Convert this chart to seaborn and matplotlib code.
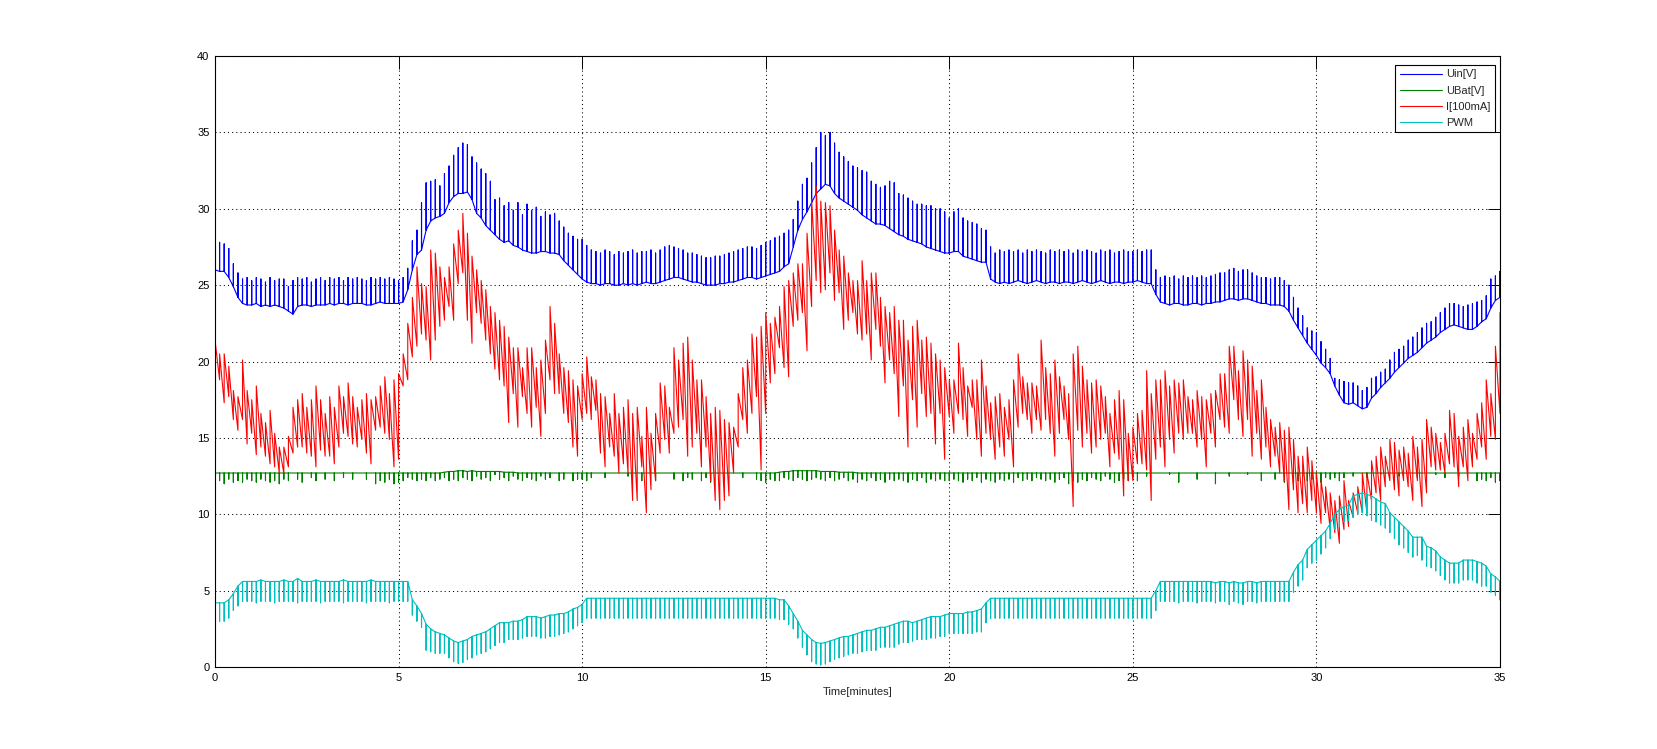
import numpy as np
import pandas as pd
import matplotlib
matplotlib.use("Agg")
import matplotlib.pyplot as plt
import seaborn as sns

# ---- data: values read every 0.125 min (t = 0 ... 35), 40 per 5-minute block ----
time_min = [i * 0.125 for i in range(281)]

uin_base = [
    26.0, 25.9, 25.9, 25.5, 24.9, 24.2, 23.8, 23.7, 23.7, 23.8, 23.6, 23.7, 23.6, 23.7, 23.6, 23.5,
    23.3, 23.1, 23.6, 23.7, 23.7, 23.6, 23.7, 23.7, 23.7, 23.8, 23.7, 23.8, 23.8, 23.7, 23.8, 23.8,
    23.8, 23.7, 23.7, 23.8, 23.9, 23.8, 23.8, 23.8,
    23.8, 23.9, 24.7, 26.0, 27.0, 27.3, 28.6, 29.2, 29.4, 29.5, 29.7, 30.4, 30.8, 31.0, 31.0, 31.1,
    30.6, 29.7, 29.4, 28.9, 28.6, 28.3, 28.0, 27.8, 27.9, 27.6, 27.5, 27.3, 27.2, 27.1, 27.1, 27.2,
    27.2, 27.1, 27.1, 27.0, 26.6, 26.3, 26.0, 25.7,
    25.4, 25.2, 25.1, 25.1, 25.0, 25.1, 25.1, 25.0, 25.0, 25.1, 25.0, 25.1, 25.0, 25.1, 25.2, 25.1,
    25.1, 25.2, 25.3, 25.4, 25.5, 25.5, 25.4, 25.3, 25.2, 25.2, 25.1, 25.0, 25.0, 25.0, 25.1, 25.1,
    25.2, 25.2, 25.3, 25.4, 25.5, 25.5, 25.4, 25.5,
    25.6, 25.7, 25.8, 25.9, 26.2, 26.4, 27.5, 28.6, 29.3, 29.8, 30.4, 31.0, 31.3, 31.6, 31.5, 31.0,
    30.7, 30.5, 30.3, 30.1, 29.9, 29.6, 29.4, 29.2, 29.0, 29.0, 28.9, 28.7, 28.5, 28.3, 28.2, 28.0,
    27.9, 27.8, 27.7, 27.5, 27.4, 27.3, 27.2, 27.1,
    27.1, 27.2, 27.2, 26.9, 26.8, 26.7, 26.6, 26.5, 26.5, 25.4, 25.2, 25.1, 25.2, 25.1, 25.2, 25.3,
    25.2, 25.1, 25.2, 25.3, 25.2, 25.1, 25.2, 25.2, 25.1, 25.2, 25.2, 25.1, 25.2, 25.3, 25.2, 25.1,
    25.2, 25.3, 25.2, 25.1, 25.2, 25.2, 25.1, 25.2,
    25.2, 25.3, 25.2, 25.1, 25.1, 24.4, 23.9, 23.8, 23.7, 23.8, 23.8, 23.7, 23.7, 23.8, 23.8, 23.7,
    23.8, 23.8, 23.9, 23.9, 24.0, 24.1, 24.1, 24.0, 24.1, 24.1, 24.0, 23.9, 23.8, 23.8, 23.7, 23.7,
    23.7, 23.6, 23.3, 22.7, 22.2, 21.7, 21.2, 20.8,
    20.4, 19.9, 19.6, 19.2, 18.4, 17.8, 17.3, 17.2, 17.3, 17.1, 16.9, 17.0, 17.6, 17.9, 18.3, 18.6,
    18.9, 19.3, 19.6, 19.9, 20.2, 20.4, 20.6, 20.9, 21.2, 21.4, 21.6, 21.9, 22.1, 22.3, 22.4, 22.3,
    22.2, 22.1, 22.1, 22.3, 22.6, 22.8, 23.5, 24.0,
    24.2]
uin_peak = [
    27.5, 27.8, 27.7, 27.4, 26.4, 25.8, 25.4, 25.5, 25.3, 25.5, 25.4, 25.2, 25.5, 25.3, 25.4, 25.4,
    24.9, 25.3, 25.5, 25.4, 25.5, 25.2, 25.4, 25.5, 25.3, 25.5, 25.4, 25.5, 25.3, 25.5, 25.4, 25.5,
    25.4, 25.3, 25.5, 25.4, 25.5, 25.4, 25.5, 25.4,
    25.3, 25.5, 26.1, 27.9, 28.6, 30.4, 31.7, 31.8, 31.9, 31.5, 32.3, 32.8, 33.5, 34.0, 34.3, 34.2,
    33.4, 33.0, 32.6, 32.3, 31.8, 30.6, 30.7, 30.2, 30.4, 29.9, 30.4, 29.6, 30.3, 29.9, 30.1, 29.5,
    29.8, 29.6, 29.7, 29.2, 28.8, 28.4, 28.2, 28.0,
    28.0, 27.6, 27.3, 27.2, 27.1, 27.3, 27.2, 27.0, 27.2, 27.1, 27.2, 27.3, 27.1, 27.2, 27.2, 27.3,
    27.1, 27.3, 27.5, 27.6, 27.5, 27.4, 27.3, 27.1, 27.1, 27.0, 26.9, 26.8, 26.8, 26.9, 26.9, 27.0,
    27.1, 27.2, 27.3, 27.4, 27.5, 27.5, 27.4, 27.6,
    27.8, 27.9, 28.1, 28.2, 28.4, 28.6, 29.3, 30.5, 31.6, 32.0, 33.0, 34.0, 35.0, 34.8, 35.0, 34.3,
    33.7, 33.4, 33.1, 32.8, 32.7, 32.5, 32.4, 31.8, 31.6, 31.4, 31.5, 31.8, 31.7, 31.0, 30.9, 30.7,
    30.5, 30.3, 30.3, 30.2, 30.2, 30.0, 30.0, 29.8,
    29.4, 29.8, 30.0, 29.4, 29.2, 29.1, 29.0, 28.7, 28.6, 27.5, 27.1, 27.3, 27.2, 27.3, 27.2, 27.3,
    27.1, 27.3, 27.2, 27.3, 27.2, 27.1, 27.3, 27.2, 27.3, 27.2, 27.3, 27.1, 27.3, 27.2, 27.3, 27.2,
    27.1, 27.3, 27.2, 27.3, 27.1, 27.2, 27.3, 27.2,
    27.2, 27.3, 27.2, 27.3, 27.3, 26.0, 25.5, 25.6, 25.5, 25.6, 25.4, 25.6, 25.5, 25.6, 25.5, 25.6,
    25.5, 25.6, 25.7, 25.8, 25.8, 26.0, 26.1, 25.9, 26.0, 26.0, 25.8, 25.6, 25.5, 25.5, 25.4, 25.5,
    25.5, 25.3, 25.0, 24.2, 23.5, 23.0, 22.2, 22.0,
    21.9, 21.3, 20.8, 20.2, 18.9, 18.8, 18.7, 18.6, 18.6, 18.4, 18.1, 18.3, 18.9, 19.0, 19.3, 19.5,
    20.1, 20.6, 20.8, 21.0, 21.4, 21.6, 21.9, 22.2, 22.5, 22.6, 22.9, 23.2, 23.5, 23.8, 23.8, 23.7,
    23.6, 23.7, 23.8, 23.9, 24.0, 24.3, 25.4, 25.6,
    25.9]

ubat_base = (
    [12.7] * 40
    + [12.7] * 10
    + [12.75, 12.8, 12.8, 12.85, 12.85, 12.8, 12.85, 12.8, 12.8, 12.8, 12.8, 12.8, 12.8, 12.75, 12.75, 12.75, 12.7]
    + [12.7] * 13
    + [12.7] * 40
    + [12.7, 12.7, 12.7, 12.75, 12.8, 12.8, 12.85, 12.85, 12.85, 12.85, 12.85, 12.85, 12.8, 12.8, 12.8, 12.8,
       12.75, 12.75, 12.75, 12.75]
    + [12.7] * 20
    + [12.7] * 121)
ubat_low = [
    12.1, 12.2, 12.0, 12.3, 12.1, 12.2, 12.1, 12.3, 12.2, 12.1, 12.3, 12.2, 12.1, 12.2, 12.0, 12.3,
    12.2, 12.7, 12.3, 12.1, 12.7, 12.4, 12.2, 12.7, 12.3, 12.7, 12.2, 12.7, 12.4, 12.7, 12.3, 12.7,
    12.7, 12.3, 12.7, 12.0, 12.2, 12.1, 12.3, 12.0,
    12.1, 12.2, 12.4, 12.3, 12.2, 12.3, 12.2, 12.4, 12.2, 12.3, 12.4, 12.2, 12.3, 12.2, 12.4, 12.3,
    12.2, 12.5, 12.3, 12.4, 12.2, 12.6, 12.3, 12.4, 12.2, 12.5, 12.3, 12.2, 12.4, 12.3, 12.2, 12.5,
    12.3, 12.4, 12.7, 12.2, 12.3, 12.7, 12.2, 12.3,
    12.3, 12.2, 12.4, 12.7, 12.7, 12.4, 12.7, 12.7, 12.7, 12.7, 12.5, 12.7, 12.7, 12.2, 12.7, 12.7,
    12.2, 12.7, 12.7, 12.7, 12.3, 12.7, 12.2, 12.4, 12.3, 12.7, 12.2, 12.4, 12.1, 12.7, 12.7, 12.2,
    12.7, 12.7, 12.7, 12.4, 12.7, 12.7, 12.3, 12.2,
    12.1, 12.3, 12.2, 12.2, 12.4, 12.3, 12.2, 12.4, 12.3, 12.2, 12.3, 12.4, 12.3, 12.2, 12.4, 12.2,
    12.3, 12.4, 12.2, 12.3, 12.1, 12.3, 12.2, 12.4, 12.2, 12.3, 12.1, 12.3, 12.2, 12.3, 12.2, 12.1,
    12.3, 12.2, 12.4, 12.1, 12.3, 12.2, 12.3, 12.2,
    12.2, 12.3, 12.2, 12.1, 12.3, 12.2, 12.4, 12.1, 12.3, 12.2, 12.1, 12.3, 12.2, 12.3, 12.1, 12.4,
    12.2, 12.3, 12.2, 12.4, 12.3, 12.2, 12.3, 12.1, 12.3, 12.4, 12.0, 12.2, 12.1, 12.3, 12.2, 12.4,
    12.3, 12.2, 12.5, 12.3, 12.1, 12.2, 12.3, 12.2,
    12.4, 12.2, 12.7, 12.5, 12.7, 12.7, 12.7, 12.7, 12.6, 12.7, 12.1, 12.7, 12.7, 12.7, 12.3, 12.7,
    12.7, 12.7, 12.0, 12.7, 12.7, 12.5, 12.7, 12.7, 12.7, 12.6, 12.7, 12.7, 12.2, 12.7, 12.7, 12.3,
    12.7, 12.1, 12.7, 12.0, 12.2, 12.5, 12.2, 12.3,
    12.3, 12.1, 12.4, 12.3, 12.4, 12.2, 12.4, 12.7, 12.5, 12.7, 12.7, 12.4, 12.7, 12.7, 12.6, 12.7,
    12.7, 12.7, 12.5, 12.7, 12.7, 12.7, 12.4, 12.7, 12.7, 12.7, 12.6, 12.7, 12.4, 12.7, 12.7, 12.5,
    12.7, 12.7, 12.7, 12.2, 12.3, 12.2, 12.4, 12.1,
    12.2]

cur_low = [
    19.2, 18.8, 17.3, 17.7, 16.2, 15.5, 16.2, 14.6, 15.3, 13.9, 14.4, 13.8, 13.3, 13.1, 12.7, 12.7,
    13.1, 14.0, 14.4, 14.4, 14.0, 13.8, 13.1, 14.2, 13.8, 13.8, 13.3, 14.4, 15.3, 15.1, 14.6, 14.4,
    14.9, 14.0, 13.3, 15.5, 15.7, 15.3, 14.9, 13.1,
    13.6, 18.4, 18.8, 20.3, 21.0, 21.8, 21.4, 20.1, 21.4, 22.3, 22.7, 23.6, 22.7, 25.1, 25.8, 22.7,
    21.2, 23.2, 22.5, 21.4, 20.5, 19.5, 18.8, 18.4, 16.0, 17.9, 15.7, 17.7, 16.6, 15.7, 17.0, 15.1,
    16.6, 18.8, 17.9, 17.9, 16.6, 16.0, 14.4, 13.8,
    16.2, 16.6, 16.2, 16.8, 14.0, 13.1, 14.4, 13.8, 12.7, 13.3, 12.7, 10.9, 10.9, 13.1, 10.1, 11.6,
    12.2, 14.0, 14.9, 14.0, 15.3, 15.7, 16.2, 13.8, 14.4, 15.3, 13.1, 14.4, 12.2, 10.9, 10.3, 10.9,
    11.2, 12.7, 14.4, 16.2, 15.3, 16.6, 17.7, 12.9,
    16.6, 18.6, 19.2, 20.9, 19.6, 19.0, 22.3, 22.7, 23.2, 20.7, 23.6, 25.3, 24.5, 24.7, 25.8, 24.0,
    24.5, 22.1, 22.7, 23.2, 21.8, 21.4, 21.8, 20.1, 22.1, 21.0, 18.6, 20.1, 19.2, 16.4, 18.4, 14.4,
    17.5, 15.7, 17.9, 16.4, 16.6, 14.6, 16.6, 13.6,
    16.4, 15.3, 16.6, 16.2, 15.1, 17.0, 14.9, 13.8, 15.3, 14.9, 13.6, 14.4, 13.8, 14.9, 13.1, 15.7,
    16.6, 16.2, 15.3, 16.2, 15.5, 16.2, 15.3, 13.8, 15.3, 16.2, 14.9, 10.5, 15.5, 14.4, 15.3, 14.0,
    14.4, 14.9, 15.3, 13.1, 14.0, 13.6, 11.2, 12.2,
    12.2, 13.3, 13.3, 12.9, 10.9, 13.6, 14.4, 13.1, 14.9, 14.0, 15.3, 14.9, 15.3, 15.3, 14.4, 14.9,
    13.1, 15.3, 14.4, 16.2, 15.7, 15.3, 17.5, 16.2, 15.1, 16.2, 13.8, 15.3, 13.6, 14.4, 13.1, 13.8,
    12.7, 12.2, 10.3, 11.6, 10.1, 10.7, 10.1, 10.9,
    10.1, 9.4, 10.1, 9.0, 8.8, 8.1, 9.0, 9.2, 9.8, 10.1, 10.1, 10.1, 10.9, 11.4, 10.9, 11.8,
    12.2, 11.6, 11.2, 12.2, 11.8, 10.9, 12.2, 10.5, 11.4, 13.1, 12.9, 12.9, 12.7, 13.3, 13.1, 11.8,
    13.1, 12.2, 13.1, 13.6, 14.4, 13.6, 15.1, 14.9,
    16.6]
cur_high = [
    21.4, 20.5, 20.5, 19.7, 18.1, 17.7, 20.1, 18.1, 17.5, 18.4, 16.6, 16.0, 16.8, 15.3, 14.4, 14.4,
    15.1, 17.0, 17.5, 17.9, 17.0, 17.5, 18.4, 17.5, 16.6, 17.7, 17.0, 18.4, 17.7, 18.6, 17.7, 17.0,
    17.5, 17.9, 17.5, 17.7, 18.4, 19.0, 17.9, 18.8,
    19.2, 20.5, 22.5, 24.2, 26.2, 25.1, 24.9, 27.3, 27.1, 26.2, 25.5, 26.2, 27.7, 28.6, 29.7, 28.4,
    26.9, 26.0, 25.3, 24.7, 23.6, 23.2, 22.7, 22.3, 21.6, 20.9, 20.9, 19.6, 20.9, 20.9, 19.6, 20.1,
    21.4, 23.6, 22.5, 20.5, 19.6, 19.4, 18.8, 18.4,
    19.2, 20.3, 19.0, 18.8, 17.9, 17.7, 16.6, 17.9, 16.6, 17.0, 17.5, 16.6, 17.0, 15.1, 17.0, 15.3,
    16.6, 18.6, 18.4, 17.0, 20.9, 20.1, 21.2, 21.6, 20.1, 18.8, 18.8, 17.7, 16.6, 17.0, 16.8, 16.2,
    16.0, 15.7, 17.9, 19.6, 20.1, 21.8, 21.6, 22.3,
    23.2, 22.5, 22.9, 23.6, 24.9, 25.3, 25.8, 26.4, 26.4, 28.4, 30.6, 31.5, 30.5, 30.4, 30.2, 28.6,
    27.3, 26.9, 25.8, 25.3, 25.3, 26.6, 25.3, 25.8, 25.8, 24.2, 23.6, 23.2, 23.6, 22.7, 22.7, 21.4,
    22.3, 22.7, 21.4, 21.6, 21.2, 20.5, 20.1, 19.6,
    18.8, 18.8, 21.2, 19.6, 18.4, 18.8, 18.8, 20.1, 18.4, 17.3, 17.7, 17.9, 17.0, 17.5, 18.8, 20.5,
    19.0, 18.6, 18.6, 18.4, 21.4, 19.6, 19.2, 20.1, 19.0, 18.4, 17.9, 20.5, 21.0, 19.7, 18.8, 18.6,
    18.8, 18.4, 17.7, 16.6, 17.5, 18.1, 17.5, 15.3,
    15.7, 16.6, 16.8, 19.4, 17.9, 18.8, 18.8, 19.4, 18.4, 18.8, 18.6, 18.8, 17.7, 17.5, 18.1, 17.7,
    17.5, 17.9, 18.1, 19.2, 19.2, 21.0, 21.0, 19.4, 20.7, 20.1, 19.7, 18.1, 18.8, 17.0, 16.2, 15.7,
    16.0, 15.5, 15.7, 14.9, 13.8, 13.8, 14.4, 13.5,
    12.7, 12.2, 11.8, 11.4, 10.9, 11.2, 12.2, 10.9, 11.4, 11.8, 12.7, 12.7, 13.5, 13.8, 14.4, 13.8,
    14.9, 14.7, 14.2, 14.4, 14.0, 15.1, 14.4, 14.9, 16.2, 15.7, 15.3, 14.7, 15.3, 16.8, 16.6, 15.1,
    15.7, 16.2, 15.3, 16.6, 17.3, 18.8, 17.9, 21.0,
    23.2]

pwm_base = (
    [4.2, 4.2, 4.2, 4.4, 4.8, 5.3, 5.6, 5.6,
     5.6, 5.6, 5.7, 5.6, 5.6, 5.6, 5.6, 5.7, 5.6, 5.6, 5.8, 5.6, 5.6, 5.6, 5.7, 5.6,
     5.6, 5.6, 5.6, 5.6, 5.7, 5.6, 5.6, 5.6, 5.6, 5.6, 5.7, 5.6, 5.6, 5.6, 5.6, 5.6]
    + [5.6, 5.6, 5.6, 4.4, 4.0, 3.5, 2.8, 2.5, 2.3, 2.2, 2.1, 1.9, 1.7, 1.6, 1.7, 1.8,
       2.0, 2.1, 2.2, 2.3, 2.5, 2.7, 2.9, 2.9, 2.9, 3.0, 3.0, 3.1, 3.3, 3.3, 3.3, 3.2,
       3.3, 3.4, 3.4, 3.5, 3.5, 3.6, 3.8, 3.9]
    + [4.1] + [4.5] * 39
    + [4.5, 4.5, 4.5, 4.4, 4.4, 4.0, 3.5, 3.0, 2.4, 2.1, 1.8, 1.6, 1.55, 1.6, 1.7, 1.8,
       1.9, 2.0, 2.0, 2.1, 2.2, 2.3, 2.4, 2.4, 2.5, 2.6, 2.6, 2.7, 2.8, 2.9, 3.0, 3.0,
       2.9, 3.0, 3.1, 3.2, 3.3, 3.3, 3.3, 3.4]
    + [3.5, 3.5, 3.5, 3.5, 3.6, 3.6, 3.7, 3.8, 4.2] + [4.5] * 31
    + [4.5, 4.5, 4.5, 4.5, 4.5, 5.0, 5.6, 5.6, 5.6, 5.6, 5.6, 5.6, 5.6, 5.6, 5.6, 5.6,
       5.6, 5.6, 5.5, 5.6, 5.6, 5.5, 5.6, 5.5, 5.5, 5.6, 5.6, 5.5, 5.6, 5.6, 5.6, 5.6,
       5.6, 5.6, 5.6, 6.2, 6.7, 7.0, 7.7, 8.0]
    + [8.3, 8.6, 8.9, 9.4, 10.0, 10.3, 10.5, 10.6, 11.2, 11.3, 11.4, 11.3, 11.2, 11.0, 10.8, 10.7,
       10.1, 9.8, 9.5, 9.2, 8.9, 8.5, 8.5, 8.5, 7.9, 7.8, 7.6, 7.2, 7.0, 6.8, 6.8, 6.8,
       7.0, 7.0, 7.0, 6.9, 6.8, 6.6, 6.1, 5.9]
    + [5.6])
pwm_low = (
    [3.0, 3.0, 3.0, 3.2, 3.7, 4.0, 4.3, 4.3,
     4.3, 4.2, 4.3, 4.3, 4.3, 4.2, 4.3, 4.3, 4.3, 4.3, 4.2, 4.3, 4.3, 4.3, 4.3, 4.2,
     4.3, 4.3, 4.3, 4.3, 4.2, 4.3, 4.3, 4.3, 4.3, 4.2, 4.3, 4.3, 4.3, 4.3, 4.2, 4.3]
    + [4.3, 4.3, 4.3, 3.4, 3.0, 2.6, 1.1, 1.0, 0.9, 0.9, 0.9, 0.6, 0.35, 0.24, 0.3, 0.5,
       0.6, 0.8, 0.9, 1.0, 1.2, 1.4, 1.6, 1.6, 1.8, 1.8, 1.8, 1.9, 2.0, 2.0, 2.0, 1.9,
       1.9, 2.0, 2.0, 2.1, 2.2, 2.3, 2.5, 2.7]
    + [2.9] + [3.2] * 39
    + [3.2, 3.2, 3.2, 3.1, 3.1, 2.8, 2.5, 1.9, 1.3, 0.8, 0.35, 0.2, 0.13, 0.2, 0.35, 0.5,
       0.6, 0.7, 0.8, 0.9, 0.9, 1.0, 1.1, 1.1, 1.1, 1.3, 1.3, 1.3, 1.3, 1.5, 1.6, 1.6,
       1.7, 1.8, 1.8, 1.8, 1.9, 1.9, 2.0, 2.0]
    + [2.2, 2.2, 2.2, 2.2, 2.2, 2.2, 2.3, 2.3, 2.9] + [3.2] * 31
    + [3.2, 3.2, 3.2, 3.2, 3.2, 3.7, 4.3, 4.3, 4.3, 4.3, 4.2, 4.3, 4.3, 4.3, 4.2, 4.3,
       4.3, 4.3, 4.2, 4.3, 4.3, 4.1, 4.3, 4.2, 4.1, 4.3, 4.3, 4.2, 4.3, 4.3, 4.3, 4.3,
       4.3, 4.3, 4.3, 4.9, 5.3, 5.7, 6.5, 6.8]
    + [7.0, 7.4, 7.8, 8.4, 9.0, 9.2, 9.5, 9.6, 9.8, 10.0, 10.1, 9.9, 9.6, 9.5, 9.3, 9.1,
       8.8, 8.4, 8.0, 7.8, 7.5, 7.2, 7.3, 7.0, 6.6, 6.5, 6.3, 6.0, 5.7, 5.5, 5.5, 5.5,
       5.7, 5.7, 5.7, 5.5, 5.3, 5.3, 4.9, 4.7]
    + [4.4])

series_names = ["Uin[V]", "UBat[V]", "I[100mA]", "PWM"]
series_colors = ["#0000ff", "#008000", "#ff0000", "#00bfbf"]

_arrays = dict(uin_base=uin_base, uin_peak=uin_peak, ubat_base=ubat_base, ubat_low=ubat_low,
               cur_low=cur_low, cur_high=cur_high, pwm_base=pwm_base, pwm_low=pwm_low)
for _k, _a in _arrays.items():
    assert len(_a) == len(time_min), (_k, len(_a))


def spike_path(t, base, tip):
    # baseline with a vertical excursion at every sample
    xs, ys = [], []
    for ti, b, p in zip(t, base, tip):
        xs += [ti, ti, ti]
        ys += [b, p, b]
    return xs, ys


def noise_path(t, low, high):
    # noisy signal: min and max of each sample joined in order (sawtooth-like strokes)
    xs, ys = [], []
    for ti, lo, hi in zip(t, low, high):
        xs += [ti, ti]
        ys += [lo, hi]
    return xs, ys


paths = [
    spike_path(time_min, uin_base, uin_peak),
    spike_path(time_min, ubat_base, ubat_low),
    noise_path(time_min, cur_low, cur_high),
    spike_path(time_min, pwm_base, pwm_low),
]
frames = []
for name, (xs, ys) in zip(series_names, paths):
    frames.append(pd.DataFrame({"t": xs, "v": ys, "series": name}))
df = pd.concat(frames, ignore_index=True)

# ---- figure ----
sns.set_style("white")
plt.rcParams["font.family"] = ["Liberation Sans", "DejaVu Sans"]

fig = plt.figure(figsize=(16.57, 7.49), dpi=100)
ax = fig.add_axes([215 / 1657, 1 - 667 / 749, 1285 / 1657, 611 / 749])

sns.lineplot(data=df, x="t", y="v", hue="series", hue_order=series_names,
             palette=series_colors, estimator=None, sort=False, units="series",
             linewidth=0.8, legend=False, ax=ax)

ax.set_xlim(0, 35)
ax.set_ylim(0, 40)
ax.set_xticks(range(0, 36, 5))
ax.set_yticks(range(0, 41, 5))
ax.set_xlabel("Time[minutes]", fontsize=8, labelpad=3)
ax.set_ylabel("")
ax.grid(True, color="black", linestyle=(0, (1, 3)), linewidth=0.75)
ax.tick_params(direction="in", length=9, width=0.7, top=True, right=True,
               labelsize=8, colors="black", pad=4)
for s in ax.spines.values():
    s.set_visible(True)
    s.set_color("black")
    s.set_linewidth(0.8)

leg = ax.legend(handles=ax.lines[:4], labels=series_names, loc="upper right",
                bbox_to_anchor=(0.9961, 0.9853), borderaxespad=0, fontsize=8,
                frameon=True, fancybox=False, edgecolor="black", framealpha=1,
                handlelength=3.8, handletextpad=0.4, labelspacing=0.55,
                borderpad=0.4)
leg.get_frame().set_linewidth(0.8)

fig.savefig("out.png", dpi=100, facecolor="white")
